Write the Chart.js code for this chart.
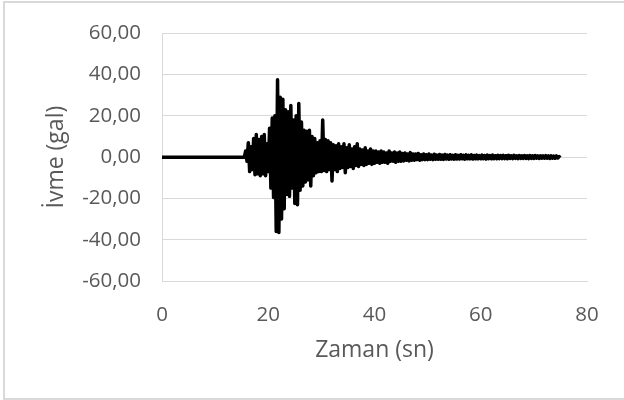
<!DOCTYPE html>
<html lang="tr">
<head>
<meta charset="utf-8">
<title>İvme kaydı</title>
<script src="https://cdn.jsdelivr.net/npm/chart.js@4.4.1/dist/chart.umd.min.js"></script>
<style>
    html, body { margin: 0; padding: 0; background: #ffffff; }
    #kutu { width: 624px; height: 400px; position: relative; }
</style>
</head>
<body>
<div id="kutu"><canvas id="ivme-chart" width="624" height="400"></canvas></div>
<script>
// Eksen işaretleri
const xTikler = [0, 20, 40, 60, 80];
const yTikler = [-60, -40, -20, 0, 20, 40, 60];

// Kayıt başlamadan önceki sessiz kısım (sn) ve örnekleme aralığı (sn)
const sessizSure = 15.5;
const dt = 0.25;

// İvme değerleri (gal), 15.75 sn'den itibaren her 0.25 sn'de bir
const ivme = [
    3, -2, 7, -7, 5, -6, 9, -8.5,
    11, -8, 8.5, -9, 10, -8, 11, -9,
    6.5, -7, 14, -15, 19, -19.5, 20, -36,
    37.5, -36.5, 29, -30, 28, -25, 23, -18,
    22, -19, 25, -15, 18, -22.5, 20, -23,
    26, -16, 17, -14, 13, -12, 12.5, -11,
    13, -14, 10, -9, 9, -7.5, 7, -7,
    8, -7, 18, -6.5, 8.5, -7, 8, -6,
    7, -11.5, 6, -6, 5.5, -7, 6.5, -5.5,
    5, -5, 6.5, -7.5, 4.5, -5, 6, -4.5,
    4, -5.5, 5, -4, 6.5, -4.5, 4, -3.5,
    3.5, -4, 4.5, -3.5, 3, -3, 4, -3.5,
    3, -3, 3, -2.5, 2.5, -3, 3, -2.5,
    2.5, -2.5, 2, -3, 3, -2, 2, -2,
    2.5, -2.5, 2, -2, 2.5, -2, 1.8, -1.8,
    2, -1.5, 1.5, -1.8, 2.2, -1.5, 1.5, -1.5,
    1.5, -1.2, 1.8, -1.5, 1.2, -1.2, 1.5, -1.2,
    1.2, -1.2, 1.5, -1, 1, -1.2, 1.4, -1,
    1, -1, 1.3, -1, 1, -1.1, 1.3, -0.9,
    1, -1, 1.2, -0.9, 0.9, -1, 1.2, -0.9,
    0.9, -0.9, 1.2, -0.8, 0.9, -1, 1.1, -0.8,
    0.9, -0.8, 1.1, -0.9, 0.8, -0.8, 1, -0.8,
    0.8, -0.8, 1, -0.7, 0.8, -0.9, 1, -0.7,
    0.8, -0.8, 1, -0.7, 0.7, -0.8, 0.9, -0.7,
    0.8, -0.7, 0.9, -0.7, 0.7, -0.8, 0.9, -0.6,
    0.7, -0.7, 0.9, -0.6, 0.7, -0.7, 0.8, -0.6,
    0.7, -0.6, 0.8, -0.6, 0.6, -0.7, 0.8, -0.6,
    0.6, -0.6, 0.8, -0.5, 0.6, -0.6, 0.7, -0.5,
    0.6, -0.5, 0.7, -0.5, 0.6, -0.6, 0.7, -0.5,
    0.5, -0.5, 0.6, -0.4, 0.3, -0.2
];

// Zaman - ivme noktaları
const noktalar = [{ x: 0, y: 0 }, { x: sessizSure, y: 0 }];
ivme.forEach(function (deger, i) {
    noktalar.push({ x: sessizSure + dt * (i + 1), y: deger });
});

const griCizgi = '#d9d9d9';
const yaziRengi = '#595959';
const yaziTipi = "'Open Sans', 'Noto Sans', sans-serif";

// Dış çerçeve (Excel grafik kenarlığı gibi)
const cerceve = {
    id: 'cerceve',
    beforeDraw: function (chart) {
        const c = chart.ctx;
        c.save();
        c.fillStyle = '#ffffff';
        c.fillRect(0, 0, chart.width, chart.height);
        c.strokeStyle = griCizgi;
        c.lineWidth = 2;
        c.strokeRect(4, 2, 660, 397);
        c.restore();
    }
};

const ctx = document.getElementById('ivme-chart').getContext('2d');
new Chart(ctx, {
    type: 'scatter',
    data: {
        datasets: [{
            label: 'İvme',
            data: noktalar,
            showLine: true,
            borderColor: '#000000',
            backgroundColor: '#000000',
            borderWidth: 3.5,
            pointRadius: 0,
            tension: 0,
            borderJoinStyle: 'round'
        }]
    },
    options: {
        responsive: false,
        animation: false,
        layout: { padding: { left: 0, right: 37, top: 31, bottom: 0 } },
        plugins: {
            legend: { display: false },
            tooltip: { enabled: false }
        },
        scales: {
            x: {
                type: 'linear',
                min: 0,
                max: 80,
                afterBuildTicks: function (s) { s.ticks = xTikler.map(function (v) { return { value: v }; }); },
                afterFit: function (s) { s.height = 119; },
                grid: { display: false, drawTicks: false },
                border: { display: true, color: griCizgi, width: 1 },
                ticks: {
                    padding: 22,
                    color: yaziRengi,
                    font: { family: yaziTipi, size: 20.5 },
                    maxRotation: 0
                },
                title: {
                    display: true,
                    text: 'Zaman (sn)',
                    color: yaziRengi,
                    font: { family: yaziTipi, size: 23 },
                    padding: { top: 0, bottom: 36 }
                }
            },
            y: {
                min: -60,
                max: 60,
                afterBuildTicks: function (s) { s.ticks = yTikler.map(function (v) { return { value: v }; }); },
                afterFit: function (s) { s.width = 162; },
                grid: { color: griCizgi, lineWidth: 1, drawTicks: false },
                border: { display: true, color: griCizgi, width: 1 },
                ticks: {
                    padding: 21,
                    color: yaziRengi,
                    font: { family: yaziTipi, size: 20.5 },
                    callback: function (v) { return v.toFixed(2).replace('.', ','); }
                },
                title: {
                    display: true,
                    text: 'İvme (gal)',
                    color: yaziRengi,
                    font: { family: yaziTipi, size: 23 },
                    padding: { top: 43, bottom: 0 }
                }
            }
        }
    },
    plugins: [cerceve]
});
</script>
</body>
</html>
